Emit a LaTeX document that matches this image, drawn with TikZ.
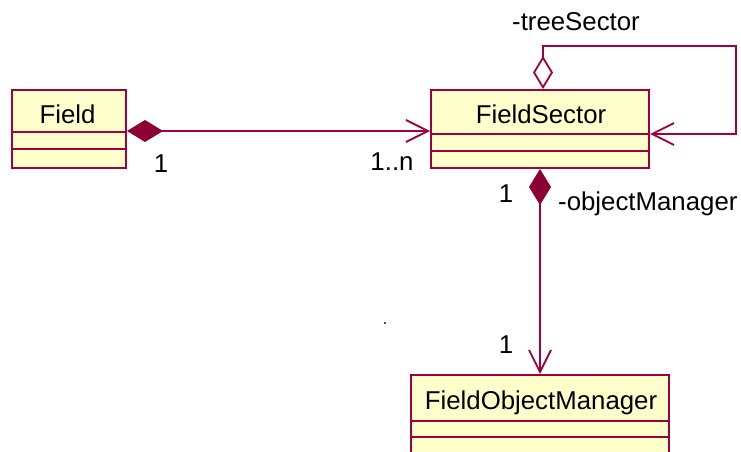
\documentclass[tikz,border=0pt]{standalone}
\usepackage{fontspec}
\setmainfont{Liberation Sans}
\usetikzlibrary{arrows.meta}
\definecolor{rose}{RGB}{160,0,60}
\definecolor{roseFill}{RGB}{140,0,50}
\definecolor{clsFill}{RGB}{255,255,204}
\tikzset{
  cls/.style={draw=rose, fill=clsFill, line width=2pt, rectangle, inner sep=0pt},
  sep/.style={draw=rose, line width=1.8pt},
  txt/.style={inner sep=0pt, anchor=base, font=\fontsize{25.8}{30}\selectfont, text=black},
  link/.style={draw=rose, line width=1.8pt},
  comp/.style={link, {Diamond[length=36pt,width=22pt,fill=roseFill,color=roseFill]}-{Straight Barb[length=22pt,width=22pt]}},
  aggr/.style={link, {Diamond[open,length=33pt,width=20pt]}-{Straight Barb[length=22pt,width=22pt]}},
}
\begin{document}
\begin{tikzpicture}[x=1pt,y=-1pt]
\useasboundingbox (0,0) rectangle (741,452);
% classes
\node[cls, minimum width=114pt, minimum height=78pt] (field) at (69,129) {};
\node[cls, minimum width=218pt, minimum height=78pt] (sector) at (540,129) {};
\node[cls, minimum width=258pt, minimum height=81pt] (fom) at (540,415.5) {};
% compartment lines
\draw[sep] (12,132) -- (126,132) (12,149) -- (126,149);
\draw[sep] (431,134) -- (649,134) (431,151) -- (649,151);
\draw[sep] (411,421) -- (669,421) (411,437) -- (669,437);
% class names
\node[txt] (tField) at (67.5,123) {Field};
\node[txt] (tSector) at (541,123) {FieldSector};
\node[txt] (tFom) at (541,409) {FieldObjectManager};
% connectors
\draw[comp] ([yshift=-2pt]field.east) -- ([yshift=-2pt]sector.west);
\coordinate (loopA) at (736,46);
\draw[aggr] ([xshift=3pt]sector.north) |- (loopA) |- ([yshift=-5pt]sector.east);
\draw[comp] (sector.south) -- (fom.north);
% labels
\node[txt] (m1) at (161,172) {1};
\node[txt] (m2) at (392,170) {1..n};
\node[txt] (m3) at (506,202) {1};
\node[txt, anchor=base west] (r1) at (558,210) {-objectManager};
\node[txt] (m4) at (506,353) {1};
\node[txt] (r2) at (576,31) {-treeSector};
% stray dot
\fill[black!70] (384,322) rectangle (386,324);
\end{tikzpicture}
\end{document}
